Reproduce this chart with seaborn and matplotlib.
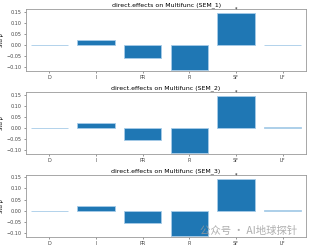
import matplotlib
matplotlib.use("Agg")
import matplotlib.pyplot as plt
import seaborn as sns
from matplotlib.colors import to_rgba

# data
predictors = ["D", "I", "PR", "PI", "SF", "LF"]
sem_names = ["SEM_1", "SEM_2", "SEM_3"]
sem1_beta = [-0.002, 0.020, -0.058, -0.116, 0.145, 0.001]
sem2_beta = [-0.002, 0.022, -0.058, -0.116, 0.145, 0.002]
sem3_beta = [0.000, 0.022, -0.058, -0.116, 0.145, 0.001]
# bar opacity (non-significant paths drawn lighter)
sem1_alpha = [0.3, 1, 1, 1, 1, 0.55]
sem2_alpha = [0.6, 1, 1, 1, 1, 0.3]
sem3_alpha = [0.6, 1, 1, 1, 1, 0.3]
# significance marks
sem1_sig = ["", "", "", "", "*", ""]
sem2_sig = ["", "", "", "", "*", ""]
sem3_sig = ["", "", "", "", "*", ""]

betas = [sem1_beta, sem2_beta, sem3_beta]
alphas = [sem1_alpha, sem2_alpha, sem3_alpha]
sigs = [sem1_sig, sem2_sig, sem3_sig]

base = "#1f77b4"

fig, axes = plt.subplots(3, 1, figsize=(3.11, 2.48), dpi=100)
fig.subplots_adjust(left=0.084, right=0.984, top=0.962, bottom=0.044, hspace=0.34)

for ax, name, vals, al, sg in zip(axes, sem_names, betas, alphas, sigs):
    sns.barplot(x=predictors, y=vals, color=base, ax=ax, width=0.8,
                edgecolor="#a6cbe8", linewidth=0.6)
    for p, a in zip(ax.patches, al):
        p.set_facecolor(to_rgba(base, a))
    for i, (v, s) in enumerate(zip(vals, sg)):
        if s:
            ax.text(i, v + 0.006, s, ha="center", va="bottom", fontsize=3.5)
    ax.set_ylim(-0.12, 0.16)
    ax.set_yticks([-0.10, -0.05, 0.0, 0.05, 0.10, 0.15])
    ax.set_title(f"direct.effects on Multifunc ({name})", fontsize=4.5, pad=2)
    ax.set_ylabel("Std β", fontsize=3.8, labelpad=2)
    ax.tick_params(labelsize=3.5, length=1.5, width=0.4, pad=1.5, colors="#444444")
    for sp in ax.spines.values():
        sp.set_color("#999999")
        sp.set_linewidth(0.6)

# watermark
fig.text(0.80, 0.07, "公众号 · AI地球探针", fontsize=7.5, color="#9a9a9a", alpha=0.8,
         ha="center", va="center", family=["Noto Sans CJK SC", "DejaVu Sans"])

fig.savefig("out.png", dpi=100)
